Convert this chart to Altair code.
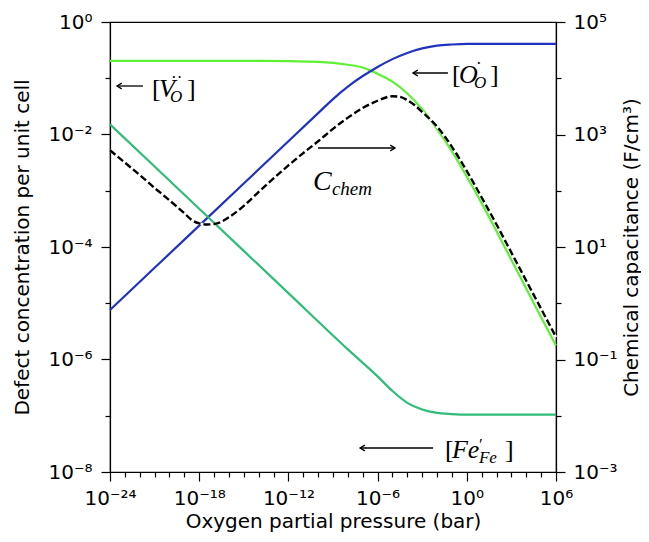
import altair as alt
import pandas as pd

# ---------------- data (log10 values) ----------------
# [V_O..] oxygen vacancies (left axis)
vo_logp = [-24, -14, -10, -8, -7, -6.5, -6, -5, -4, -3, -2, -1, 0, 1, 2, 3, 4, 5, 6]
vo_logc = [-0.69, -0.69, -0.71, -0.76, -0.81, -0.86, -0.92, -1.06, -1.27, -1.55,
           -1.9, -2.3, -2.75, -3.22, -3.72, -4.23, -4.74, -5.25, -5.75]
# [O_O.] (left axis)
oo_logp = [-24, -18, -12, -10, -9, -8, -7, -6.5, -6, -5, -4, -3, -2, -1, 0, 2, 6]
oo_logc = [-5.12, -3.62, -2.12, -1.62, -1.37, -1.15, -0.96, -0.88, -0.80, -0.66,
           -0.55, -0.47, -0.42, -0.40, -0.39, -0.39, -0.39]
# [Fe'_Fe] (left axis)
fe_logp = [-24, -18, -12, -8, -6, -5, -4, -3, -2, -1, 0, 2, 6]
fe_logc = [-1.82, -3.32, -4.82, -5.82, -6.30, -6.56, -6.77, -6.89, -6.95, -6.97,
           -6.98, -6.98, -6.98]
# C_chem chemical capacitance, F/cm^3 (right axis)
cc_logp = [-24, -23, -22, -21, -20, -19, -18.5, -18, -17.5, -17, -16.5, -16, -15,
           -14, -13, -12, -11, -10, -9, -8, -7, -6, -5, -4.5, -4, -3.5, -3, -2,
           -1, 0, 1, 2, 3, 4, 5, 6]
cc_logc = [2.72, 2.5, 2.28, 2.05, 1.83, 1.6, 1.48, 1.42, 1.4, 1.41, 1.45, 1.53,
           1.73, 1.98, 2.22, 2.45, 2.67, 2.88, 3.1, 3.3, 3.47, 3.6, 3.68, 3.67,
           3.61, 3.52, 3.4, 3.14, 2.78, 2.35, 1.88, 1.4, 0.9, 0.4, -0.1, -0.6]

series_names = ["Vo", "Oo", "Fe"]
series_colors = ["#5ef035", "#1f33c0", "#2fbd78"]

x_title = "Oxygen partial pressure (bar)"
yl_title = "Defect concentration per unit cell"
yr_title = "Chemical capacitance (F/cm³)"

# annotation arrows: tip log p, tail log p, log c (left axis), angle of head
arrow_tip = [-23.53, -3.62, -4.83, -7.18]
arrow_tail = [-21.78, -1.27, -10.01, -2.27]
arrow_y = [-1.138, -0.907, -2.24, -7.573]
arrow_ang = [0, 0, 180, 0]

# label anchors (log p, log c at text baseline)
lab_x = {"V": -21.17, "O": -1.0, "C": -10.35, "F": -1.47}
lab_y = {"V": -1.333, "O": -1.084, "C": -2.987, "F": -7.75}
# pieces: (label, text, dx, dy, size, italic)
pieces = [
    ("V", "[", 0, 0, 26, False), ("V", "V", 7, 0, 26, True),
    ("V", "O", 18, 5, 17, True), ("V", "··", 19, -14, 17, False),
    ("V", "]", 35, 0, 26, False),
    ("O", "[", 0, 0, 26, False), ("O", "O", 7, 0, 26, True),
    ("O", "O", 22, 5, 17, True), ("O", "·", 24, -14, 17, False),
    ("O", "]", 38, 0, 26, False),
    ("C", "C", 0, 0, 28, True), ("C", "chem", 19, 5, 19, True),
    ("F", "[", 0, 0, 26, False), ("F", "Fe", 7, 0, 26, True),
    ("F", "′", 34, -8, 17, False), ("F", "Fe", 34, 5, 17, True),
    ("F", "]", 60, 0, 26, False),
]

# ---------------- frames ----------------
rows = []
for name, lp, lc in zip(series_names, [vo_logp, oo_logp, fe_logp], [vo_logc, oo_logc, fe_logc]):
    for a, b in zip(lp, lc):
        rows.append({"p": 10 ** a, "c": 10 ** b, "s": name})
df = pd.DataFrame(rows)
dcc = pd.DataFrame({"p": [10 ** a for a in cc_logp], "cap": [10 ** b for b in cc_logc]})
darr = pd.DataFrame({"p": [10 ** a for a in arrow_tail], "p2": [10 ** a for a in arrow_tip],
                     "tip": [10 ** a for a in arrow_tip],
                     "c": [10 ** a for a in arrow_y], "ang": arrow_ang})

SUP = "['⁰','¹','²','³','⁴','⁵','⁶','⁷','⁸','⁹']"
E = "round(log(datum.value)/LN10)"
N = "abs(" + E + ")"
SUPEXPR = f"('10' + ({E} < 0 ? '⁻' : '') + ({N} >= 10 ? {SUP}[floor({N}/10)] : '') + {SUP}[{N} % 10])"

def axis(title, minor_test, orient, values, **kw):
    return alt.Axis(
        title=title, orient=orient, grid=False, values=values,
        labelExpr=f"{minor_test} ? '' : {SUPEXPR}",
        tickSize={"condition": {"test": minor_test, "value": 5}, "value": 9},
        labelOverlap=False, labelFlush=False, **kw)

xvals = [10.0 ** k for k in range(-24, 7)]
ylvals = [10.0 ** k for k in range(-8, 1)]
yrvals = [10.0 ** k for k in range(-3, 6)]

xaxis = axis(x_title, f"{E} % 6 != 0", "bottom", xvals, titleX=223, titleY=49,
             titleBaseline="middle", labelPadding=7)
ylaxis = axis(yl_title, f"{N} % 2 != 0", "left", ylvals, titleX=-88, titleY=225,
              titleBaseline="middle", labelPadding=9)
yraxis = axis(yr_title, f"{N} % 2 != 1", "right", yrvals, titleX=75, titleY=225, titleAngle=270,
              titleBaseline="middle", labelPadding=8)

xscale = alt.Scale(type="log", domain=[1e-24, 1e6], nice=False)
ylscale = alt.Scale(type="log", domain=[1e-8, 1], nice=False)
yrscale = alt.Scale(type="log", domain=[1e-3, 1e5], nice=False)

def X(f="p"):
    return alt.X(f"{f}:Q", scale=xscale, axis=xaxis)

def YL(f="c"):
    return alt.Y(f"{f}:Q", scale=ylscale, axis=ylaxis)

lines = alt.Chart(df).mark_line(strokeWidth=2.2, interpolate="monotone").encode(
    x=X(), y=YL(),
    color=alt.Color("s:N", scale=alt.Scale(domain=series_names, range=series_colors), legend=None),
    order=alt.Order("p:Q"),
)

shafts = alt.Chart(darr).mark_rule(color="black", strokeWidth=1.3).encode(
    x=X(), x2="p2:Q", y=YL())
heads = alt.Chart(darr).mark_point(shape="M1,-0.6L0,0L1,0.6", filled=False, stroke="black",
                                   strokeWidth=1.3, size=90, opacity=1).encode(
    x=X("tip"), y=YL(), angle=alt.Angle("ang:Q", scale=None))

texts = []
for lab, t, dx, dy, size, it in pieces:
    d = pd.DataFrame({"p": [10 ** lab_x[lab]], "c": [10 ** lab_y[lab]], "t": [t]})
    texts.append(alt.Chart(d).mark_text(
        align="left", baseline="alphabetic", dx=dx, dy=dy, fontSize=size,
        font="Liberation Serif", fontStyle="italic" if it else "normal", color="black"
    ).encode(x=X(), y=YL(), text="t:N"))

left = alt.layer(lines, shafts, heads, *texts)

YR = alt.Y("cap:Q", scale=yrscale, axis=yraxis)
under = alt.Chart(dcc).mark_line(color="white", strokeWidth=2.4, interpolate="monotone").encode(
    x=X(), y=YR, order="p:Q")
dashed = alt.Chart(dcc).mark_line(color="black", strokeWidth=2.4, strokeDash=[7, 3],
                                  interpolate="monotone").encode(x=X(), y=YR, order="p:Q")
right = alt.layer(under, dashed)

chart = alt.layer(left, right).resolve_scale(y="independent").properties(
    width=446, height=450,
    autosize=alt.AutoSizeParams(type="none"),
    padding={"left": 102, "top": 14, "right": 85, "bottom": 62},
).configure_view(stroke="black", strokeWidth=1.2).configure_axis(
    labelFont="DejaVu Sans", labelFontSize=20, labelColor="black",
    titleFont="DejaVu Sans", titleFontSize=20, titleFontWeight="normal", titleColor="black",
    domainColor="black", domainWidth=1.2, tickColor="black", tickWidth=1.2,
)

chart.save("out.html", embed_options={"renderer": "svg", "actions": False})
